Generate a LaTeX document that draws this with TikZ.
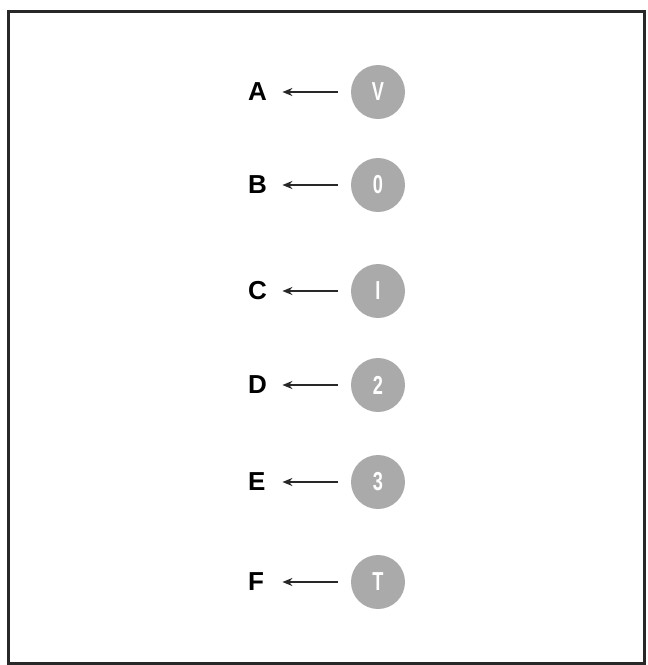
\documentclass[tikz,border=0pt]{standalone}
\usepackage{fontspec}
\setmainfont{Liberation Sans}
\usetikzlibrary{positioning, arrows.meta}
\definecolor{numgray}{RGB}{170,170,170}
\definecolor{linegray}{RGB}{40,40,40}

\begin{document}
\begin{tikzpicture}[x=1pt, y=-1pt,
    num/.style={circle, fill=numgray, minimum size=54pt, inner sep=0pt,
      text=white, font=\bfseries\fontsize{26}{26}\selectfont},
    lbl/.style={text width=22pt, inner sep=0pt, align=left,
      font=\bfseries\fontsize{26}{26}\selectfont},
    arr/.style={-{Stealth[length=10pt, width=8pt]}, line width=1.7pt, draw=linegray,
      shorten <=13pt, shorten >=12pt}
  ]
  \useasboundingbox (0,0) rectangle (648,665);
  \draw[line width=3pt, draw=linegray] (8,11) rectangle (644,663);
  % one row per letter
  \foreach \y/\n/\t in {92/A/V, 185/B/0, 291/C/I, 385/D/2, 482/E/3, 582/F/T}
  {
    \node[num] (c\n) at (378,\y) {\scalebox{0.7}[1]{\t}};
    \node[lbl, anchor=west] (l\n) at (248,\y) {\n};
    \draw[arr] (c\n.west) -- (l\n.east);
  }
\end{tikzpicture}
\end{document}
